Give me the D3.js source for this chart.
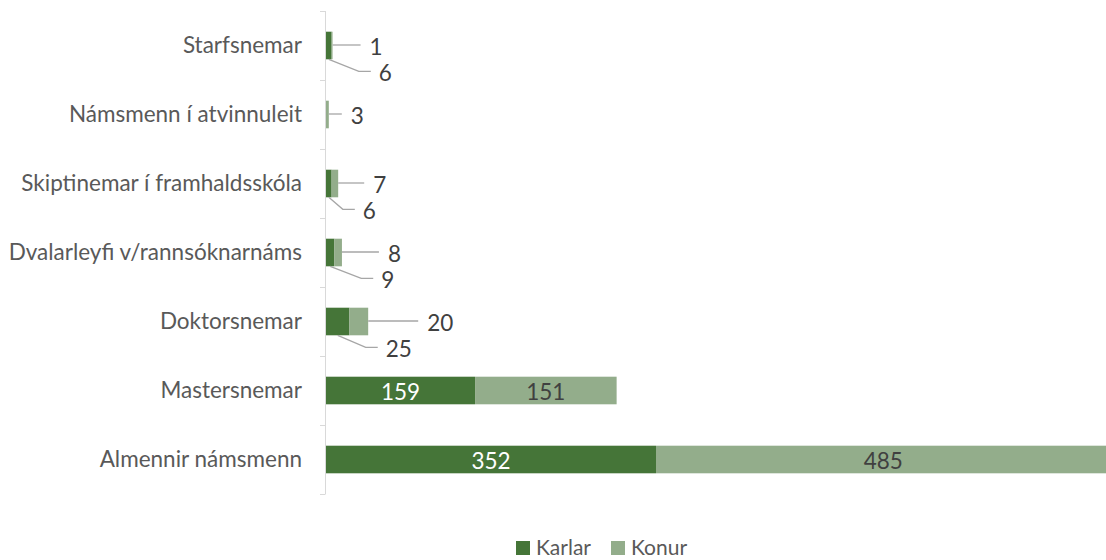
<!DOCTYPE html>
<html><head><meta charset="utf-8">
<script src="https://cdn.jsdelivr.net/npm/d3@7"></script>
<style>body{margin:0;background:#fff}svg{display:block}text{font-family:Lato,"Open Sans",sans-serif}</style>
</head><body><svg id="c" width="1106" height="560"></svg>
<script>
const categories = ["Starfsnemar","Námsmenn í atvinnuleit","Skiptinemar í framhaldsskóla","Dvalarleyfi v/rannsóknarnáms","Doktorsnemar","Mastersnemar","Almennir námsmenn"];
const karlar = [6, 0, 6, 9, 25, 159, 352];
const konur  = [1, 3, 7, 8, 20, 151, 485];
const seriesNames = ["Karlar","Konur"];

// label layout (style): which labels go outside, and their offsets
const outside = [true, true, true, true, true, false, false];
const konurLabelDx = [37, 22, 35, 46, 59, 0, 0];
const karlarLabelDx = [50, 0, 34, 51, 48, 0, 0];

const colors = {Karlar:"#457538", Konur:"#93ad8b"};
const svg = d3.select("#c");
const FONT = 22.5;

const y = d3.scaleBand().domain(categories).range([11, 494]).paddingInner(0.6).paddingOuter(0.3);
const x = d3.scaleLinear().domain([0, 800]).range([326, 1076]);

// axis
const axisX = 325.5;
svg.append("line").attr("x1",axisX).attr("x2",axisX).attr("y1",11).attr("y2",494).attr("stroke","#d9d9d9").attr("stroke-width",1);
const step = y.step();
for (let i=0;i<=categories.length;i++){
  const ty = Math.round(11 + i*step) + 0.5;
  svg.append("line").attr("x1",320).attr("x2",axisX).attr("y1",ty).attr("y2",ty).attr("stroke","#d9d9d9");
}
// category labels
svg.selectAll("text.cat").data(categories).enter().append("text")
  .attr("class","cat").attr("x",302).attr("y",d=>y(d)+y.bandwidth()/2-1)
  .attr("text-anchor","end").attr("dominant-baseline","central")
  .attr("fill","#595959").attr("font-size",FONT).text(d=>d);

const rows = categories.map((c,i)=>({c, i, k:karlar[i], w:konur[i]}));
// bars
svg.selectAll("rect.k").data(rows).enter().append("rect")
  .attr("x",d=>x(0)).attr("y",d=>y(d.c)).attr("width",d=>x(d.k)-x(0)).attr("height",y.bandwidth())
  .attr("fill",colors.Karlar);
svg.selectAll("rect.w").data(rows).enter().append("rect")
  .attr("x",d=>x(d.k)).attr("y",d=>y(d.c)).attr("width",d=>x(d.k+d.w)-x(d.k)).attr("height",y.bandwidth())
  .attr("fill",colors.Konur);

const lead = "#a6a6a6";
rows.forEach(d=>{
  const yc = y(d.c)+y.bandwidth()/2;
  const yb = y(d.c)+y.bandwidth();
  if (outside[d.i]) {
    if (d.w>0){
      const xe = x(d.k+d.w);
      const lx = xe + konurLabelDx[d.i];
      svg.append("line").attr("x1",xe).attr("x2",lx-9).attr("y1",yc-0.5).attr("y2",yc-0.5).attr("stroke",lead).attr("stroke-width",1.3);
      svg.append("text").attr("x",lx).attr("y",yc+1).attr("dominant-baseline","central").attr("fill","#404040").attr("font-size",FONT).text(d.w);
    }
    if (d.k>0){
      const xm = (x(0)+x(d.k))/2;
      const lx = xm + karlarLabelDx[d.i];
      const ly = yb + 12;
      svg.append("polyline").attr("points",`${xm},${yb} ${lx-20},${ly} ${lx-8},${ly}`).attr("fill","none").attr("stroke",lead).attr("stroke-width",1.3);
      svg.append("text").attr("x",lx).attr("y",ly+1.5).attr("dominant-baseline","central").attr("fill","#404040").attr("font-size",FONT).text(d.k);
    }
  } else {
    svg.append("text").attr("x",(x(0)+x(d.k))/2).attr("y",yc+1).attr("text-anchor","middle").attr("dominant-baseline","central").attr("fill","#ffffff").attr("font-size",FONT).text(d.k);
    svg.append("text").attr("x",(x(d.k)+x(d.k+d.w))/2).attr("y",yc+1).attr("text-anchor","middle").attr("dominant-baseline","central").attr("fill","#404040").attr("font-size",FONT).text(d.w);
  }
});

// legend
const lg = svg.append("g");
const legX = [516, 611];
seriesNames.forEach((s,i)=>{
  lg.append("rect").attr("x",legX[i]).attr("y",541).attr("width",14).attr("height",14).attr("fill",colors[s]);
  lg.append("text").attr("x",legX[i]+20).attr("y",555).attr("fill","#595959").attr("font-size",21).text(s);
});
</script></body></html>
